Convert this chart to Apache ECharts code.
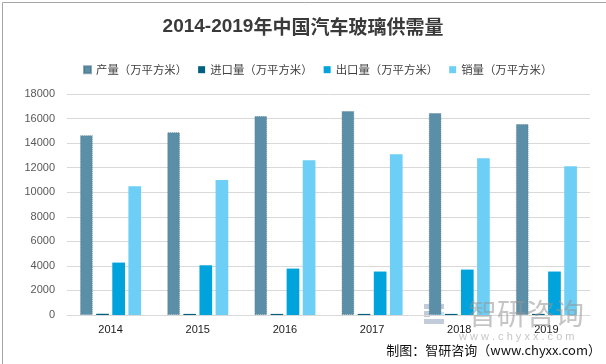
<!DOCTYPE html>
<html><head><meta charset="utf-8">
<script src="https://cdn.jsdelivr.net/npm/echarts@6/dist/echarts.min.js"></script>
<style>html,body{margin:0;padding:0;background:#fff}#c{width:606px;height:364px}</style>
</head><body><div id="c"></div>
<script>
const categories = ['2014','2015','2016','2017','2018','2019'];
const production = [14650, 14890, 16200, 16610, 16450, 15550];
const imports = [100, 90, 90, 90, 90, 90];
const exports_ = [4270, 4050, 3780, 3540, 3700, 3540];
const sales = [10480, 11000, 12600, 13100, 12770, 12120];
const seriesNames = ['产量（万平方米）','进口量（万平方米）','出口量（万平方米）','销量（万平方米）'];
const yTicks = {min: 0, max: 18000, interval: 2000};

const colors = ['#5B8FA8', '#00607F', '#00A3DB', '#6DCFF6'];
const chart = echarts.init(document.getElementById('c'), null, {renderer: 'canvas'});
const font = '"Noto Sans CJK SC", "Liberation Sans", sans-serif';
const dataSets = [production, imports, exports_, sales];
chart.setOption({
  animation: false,
  textStyle: {fontFamily: font},
  title: {
    text: '{a|2014-2019}{b|年中国汽车玻璃供需量}',
    left: 'center', top: 12,
    textStyle: {
      rich: {
        a: {fontFamily: '"Liberation Sans", "Noto Sans", sans-serif', fontWeight: 'bold', fontSize: 19, color: '#3a3a3a'},
        b: {fontFamily: font, fontWeight: 'bold', fontSize: 19, color: '#3a3a3a'}
      }
    }
  },
  legend: {
    top: 59, left: 78,
    icon: 'rect', itemWidth: 7, itemHeight: 7, itemGap: 11,
    textStyle: {color: '#404040', fontSize: 11.4, fontFamily: font},
    data: seriesNames
  },
  grid: {left: 67, right: 16, top: 94, bottom: 49, containLabel: false},
  xAxis: {
    type: 'category', data: categories,
    axisLine: {lineStyle: {color: '#D9D9D9'}},
    axisTick: {show: false},
    axisLabel: {color: '#1a1a1a', fontSize: 11, margin: 9, fontFamily: '"Liberation Sans", sans-serif'}
  },
  yAxis: {
    type: 'value', min: yTicks.min, max: yTicks.max, interval: yTicks.interval,
    axisLine: {show: false}, axisTick: {show: false},
    splitLine: {lineStyle: {color: '#D9D9D9'}},
    axisLabel: {color: '#595959', fontSize: 11, margin: 12, fontFamily: '"Liberation Sans", sans-serif',
      formatter: v => String(v)}
  },
  series: seriesNames.map((n, i) => ({
    name: n, type: 'bar', data: dataSets[i],
    barCategoryGap: '30%', barGap: '27%',
    itemStyle: i === 0 ? {color: colors[i], borderColor: 'rgba(70,110,135,0.6)', borderType: 'dotted', borderWidth: 1} : {color: colors[i]}
  })),
  color: colors,
  graphic: [
    {type: 'rect', left: 0, top: 0, shape: {width: 605, height: 363}, style: {fill: 'none', stroke: '#A6A6A6', lineWidth: 1}, z: 100, silent: true},
    {type: 'group', left: 424, top: 304, z: 50, children: [
      {type: 'rect', shape: {x: 0, y: 0, width: 20, height: 5}, style: {fill: 'rgba(120,140,170,0.45)'}},
      {type: 'rect', shape: {x: 0, y: 7, width: 6, height: 6}, style: {fill: 'rgba(120,140,170,0.45)'}},
      {type: 'rect', shape: {x: 8, y: 8, width: 12, height: 4}, style: {fill: 'rgba(110,200,240,0.45)'}},
      {type: 'rect', shape: {x: 0, y: 15, width: 20, height: 5}, style: {fill: 'rgba(120,140,170,0.45)'}}
    ]},
    {type: 'text', left: 468, top: 299, z: 50, silent: true,
      style: {text: '智研咨询', fontSize: 29, fontFamily: font, fill: 'rgba(150,150,150,0.55)'}},
    {type: 'text', left: 459, top: 331, z: 50, silent: true,
      style: {text: 'w w w . c h y x x . c o m', fontSize: 11, fontFamily: '"Liberation Sans", sans-serif', fill: 'rgba(160,160,160,0.6)'}},
    {type: 'text', right: 5, top: 344, z: 60,
      style: {text: '制图：智研咨询（www.chyxx.com）', fontSize: 13, fontFamily: font, fill: '#111'}}
  ]
});
</script></body></html>
